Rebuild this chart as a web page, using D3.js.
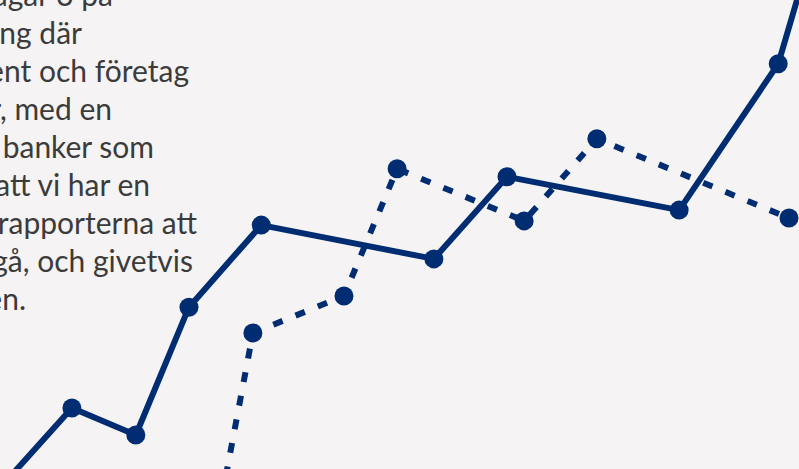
<!DOCTYPE html>
<html lang="sv">
<head>
<meta charset="UTF-8">
<title>Linjediagram</title>
<script src="https://cdn.jsdelivr.net/npm/d3@7"></script>
<style>
  html, body { margin: 0; padding: 0; background: #f5f3f4; }
  svg { display: block; }
</style>
</head>
<body>
<script>
    // brödtext till vänster (radernas början hamnar utanför bilden)
    var textLines = [
        "Det framgår av bilagar 3 på",
        "en sammanställning där",
        "hushållssegment och företag",
        "fördelat per år, med en",
        "jämförelser mellan olika banker som",
        "Det innebär att vi har en",
        "möjlighet i rapporterna att",
        "ser ut att gå, och givetvis",
        "över tiden."
    ];
    // radernas högerkant
    var lineEnds = [113, 82, 189, 112, 154, 150, 197, 193, 26];

    // heldragen serie
    var solidX = [-1.25, 9.0, 17.0, 23.65, 32.7, 54.3, 63.45, 85.0, 97.4, 101.6];
    var solidY = [-6.4, 13.0, 7.25, 34.5, 52.0, 44.8, 62.3, 55.2, 86.4, 110.7];

    // streckad serie
    var dashX = [27.7, 31.65, 43.05, 49.7, 65.6, 74.7, 98.75];
    var dashY = [-6.6, 29.0, 36.9, 64.0, 52.9, 70.4, 53.5];

    var width = 799;
    var height = 469;
    var navy = "#002d72";

    var svg = d3.select("body")
        .append("svg")
        .attr("width", width)
        .attr("height", height);

    var x = d3.scaleLinear().domain([0, 100]).range([0, width]);
    var y = d3.scaleLinear().domain([0, 100]).range([height, 0]);

    // text
    svg.append("g")
        .selectAll("text")
        .data(textLines)
        .enter()
        .append("text")
        .attr("x", function (d, i) { return lineEnds[i]; })
        .attr("y", function (d, i) { return 5.5 + i * 38; })
        .attr("text-anchor", "end")
        .style("font-family", "Lato, 'Open Sans', sans-serif")
        .style("font-size", "30px")
        .style("fill", "#3b3b3b")
        .text(function (d) { return d; });

    function toPoints(xs, ys) {
        return xs.map(function (v, i) { return [v, ys[i]]; });
    }

    var line = d3.line()
        .x(function (d) { return x(d[0]); })
        .y(function (d) { return y(d[1]); });

    var solid = toPoints(solidX, solidY);
    var dashed = toPoints(dashX, dashY);

    svg.append("path")
        .datum(dashed)
        .attr("d", line)
        .attr("fill", "none")
        .attr("stroke", navy)
        .attr("stroke-width", 6)
        .attr("stroke-dasharray", "10,14");

    svg.append("path")
        .datum(solid)
        .attr("d", line)
        .attr("fill", "none")
        .attr("stroke", navy)
        .attr("stroke-width", 6)
        .attr("stroke-linejoin", "round");

    svg.append("g")
        .selectAll("circle")
        .data(solid.concat(dashed))
        .enter()
        .append("circle")
        .attr("cx", function (d) { return x(d[0]); })
        .attr("cy", function (d) { return y(d[1]); })
        .attr("r", 9.5)
        .attr("fill", navy);
</script>
</body>
</html>
